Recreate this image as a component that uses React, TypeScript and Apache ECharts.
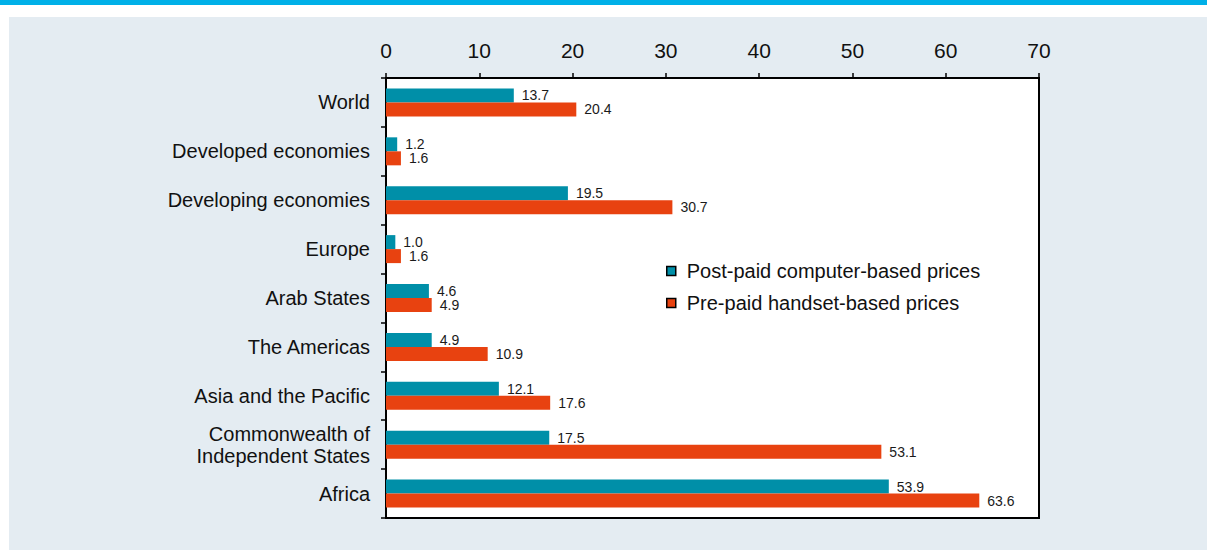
import React, { useEffect, useRef } from "react";
import * as echarts from "echarts";

const categories = [
  "World",
  "Developed economies",
  "Developing economies",
  "Europe",
  "Arab States",
  "The Americas",
  "Asia and the Pacific",
  "Commonwealth of\nIndependent States",
  "Africa",
];
const postPaid = [13.7, 1.2, 19.5, 1.0, 4.6, 4.9, 12.1, 17.5, 53.9];
const prePaid = [20.4, 1.6, 30.7, 1.6, 4.9, 10.9, 17.6, 53.1, 63.6];
const seriesNames = ["Post-paid computer-based prices", "Pre-paid handset-based prices"];

const FONT = "'Liberation Sans Narrow', 'Arial Narrow', 'Liberation Sans', sans-serif";

export default function App() {
  const ref = useRef<HTMLDivElement>(null);
  useEffect(() => {
    if (!ref.current) return;
    const chart = echarts.init(ref.current, undefined, { renderer: "svg" });
    const labelStyle = {
      show: true,
      position: "right" as const,
      distance: 8,
      fontSize: 14,
      lineHeight: 14,
      color: "#1a1a1a",
      fontFamily: FONT,
      formatter: (p: any) => Number(p.value).toFixed(1),
    };
    chart.setOption({
      animation: false,
      textStyle: { fontFamily: FONT },
      grid: {
        left: 386,
        right: 168,
        top: 78,
        bottom: 32,
        show: true,
        backgroundColor: "#ffffff",
        borderColor: "#000",
        borderWidth: 2,
        containLabel: false,
      },
      legend: {
        orient: "vertical",
        left: 661,
        top: 256,
        itemWidth: 9,
        itemHeight: 9,
        itemGap: 12,
        icon: "rect",
        data: seriesNames.map((n) => ({ name: n, itemStyle: { borderColor: "#000", borderWidth: 1.5 } })),
        textStyle: { fontSize: 20, color: "#111", fontFamily: FONT, padding: [0, 0, 0, 6] },
      },
      xAxis: {
        type: "value",
        position: "top",
        min: 0,
        max: 70,
        interval: 10,
        splitLine: { show: false },
        axisLine: { show: true, lineStyle: { color: "#000", width: 2 } },
        axisTick: { show: true, inside: false, length: 5, lineStyle: { color: "#000", width: 1.5 } },
        axisLabel: { fontSize: 21, color: "#111", margin: 17, fontFamily: FONT },
      },
      yAxis: {
        type: "category",
        data: categories,
        inverse: true,
        axisLine: { show: true, lineStyle: { color: "#000", width: 2 } },
        axisTick: { show: true, inside: false, length: 5, lineStyle: { color: "#000", width: 1.5 } },
        axisLabel: { fontSize: 20, color: "#111", margin: 16, lineHeight: 22, fontFamily: FONT },
      },
      series: [
        {
          name: seriesNames[0],
          type: "bar",
          data: postPaid,
          barWidth: 14,
          barGap: "0%",
          itemStyle: { color: "#008fa8" },
          label: labelStyle,
        },
        {
          name: seriesNames[1],
          type: "bar",
          data: prePaid,
          barWidth: 14,
          barGap: "0%",
          itemStyle: { color: "#e84210" },
          label: labelStyle,
        },
      ],
    });
    return () => chart.dispose();
  }, []);
  return (
    <div style={{ position: "fixed", left: 0, top: 0, width: 1207, height: 550, background: "#fff" }}>
      <div style={{ position: "absolute", left: 0, top: 0, width: 1207, height: 5, background: "#00b0e8" }} />
      <div style={{ position: "absolute", left: 9, top: 17, width: 1198, height: 533, background: "#e4ecf2" }} />
      <div ref={ref} style={{ position: "absolute", left: 0, top: 0, width: 1207, height: 550 }} />
    </div>
  );
}
